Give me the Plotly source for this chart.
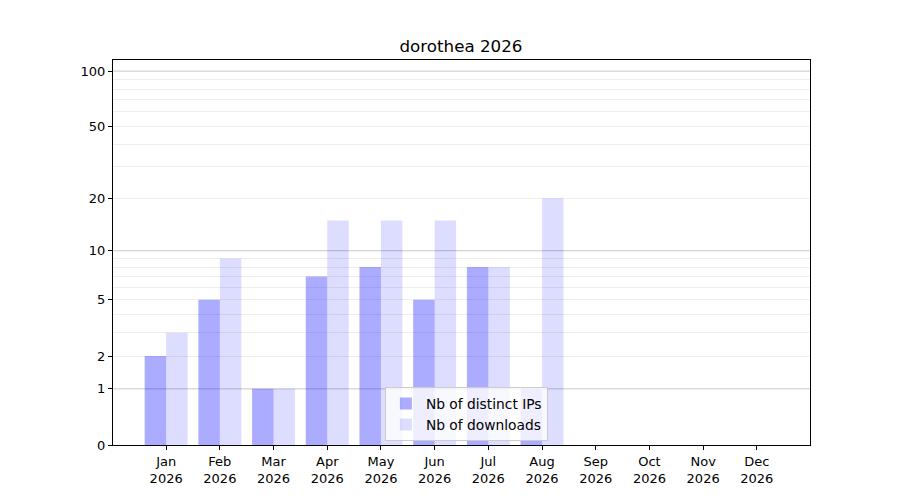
import numpy as np
import plotly.graph_objects as go

# données du graphique
months = ["Jan", "Feb", "Mar", "Apr", "May", "Jun", "Jul", "Aug", "Sep", "Oct", "Nov", "Dec"]
year = "2026"
distinct_ips = [2, 5, 1, 7, 8, 5, 8, 1, 0, 0, 0, 0]
downloads = [3, 9, 1, 15, 15, 15, 8, 20, 0, 0, 0, 0]
tick_labels = [0, 1, 2, 5, 10, 20, 50, 100]
major_lines = [1, 10, 100]
minor_lines = [2, 3, 4, 5, 6, 7, 8, 9, 20, 30, 40, 50, 60, 70, 80, 90]


def slog(v):
    # échelle log10(1 + x) comme sur le graphique d'origine
    return np.log10(1 + np.asarray(v, dtype=float))


labels = [m + "<br>" + year for m in months]

fig = go.Figure()
fig.add_trace(go.Bar(x=labels, y=slog(distinct_ips), name="Nb of distinct IPs",
                     marker=dict(color="rgba(0,0,255,0.33)", line_width=0),
                     customdata=distinct_ips, hovertemplate="%{customdata}"))
fig.add_trace(go.Bar(x=labels, y=slog(downloads), name="Nb of downloads",
                     marker=dict(color="rgba(0,0,255,0.135)", line_width=0),
                     customdata=downloads, hovertemplate="%{customdata}"))

# lignes principales plus foncées
for v in major_lines:
    fig.add_shape(type="line", xref="paper", x0=0, x1=1, yref="y",
                  y0=float(slog(v)), y1=float(slog(v)),
                  line=dict(color="#c8c8c8", width=1), layer="below")

# la page html ajoute 8px de marge autour du graphique
fig.update_layout(
    width=900, height=500,
    template="plotly_white",
    plot_bgcolor="white",
    font=dict(family="DejaVu Sans", size=13, color="black"),
    title=dict(text="dorothea 2026", x=0.5033, xanchor="center",
               y=0.924, yanchor="middle", font=dict(size=16.7)),
    margin=dict(l=105, r=98, t=52, b=63),
    barmode="group", bargap=0.2, bargroupgap=0,
    legend=dict(x=0.507, xanchor="center", y=0.01, yanchor="bottom",
                bgcolor="rgba(255,255,255,0.8)", bordercolor="#cccccc",
                borderwidth=1, font=dict(size=13.8), tracegroupgap=0),
    showlegend=True,
)

fig.update_xaxes(range=[-0.99, 11.99], showgrid=False, ticks="outside",
                 ticklen=4, tickcolor="black", showline=True, linecolor="black",
                 linewidth=1, mirror=True, zeroline=False)
fig.update_yaxes(range=[0, 2.064], tickvals=slog(tick_labels),
                 ticktext=[str(t) for t in tick_labels], showgrid=False,
                 ticks="outside", ticklen=4, tickcolor="black",
                 showline=True, linecolor="black", linewidth=1, mirror=True,
                 zeroline=False,
                 minor=dict(tickvals=slog(minor_lines), showgrid=True,
                            gridcolor="#eeeeee", gridwidth=1, ticks=""))

fig.write_html("out.html")
